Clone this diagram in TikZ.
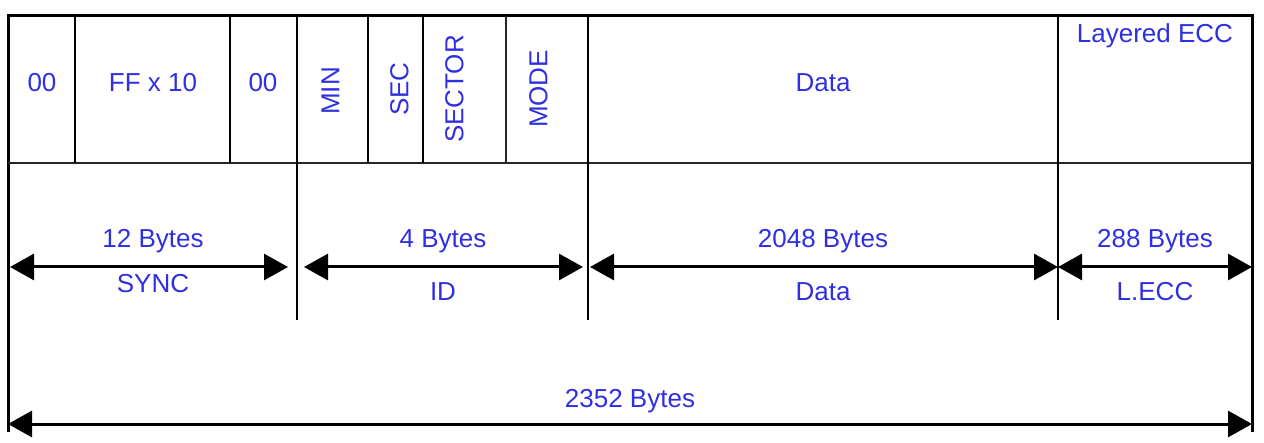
\documentclass[tikz,border=0pt]{standalone}
\usepackage{fontspec}
\setmainfont{Liberation Sans}
\usepackage{xcolor}
\usetikzlibrary{arrows.meta}
\definecolor{lbl}{HTML}{2F2FE2}
\tikzset{
  frame/.style={line width=1.5pt, line cap=rect},
  rule/.style={line width=1.3pt},
  thinrule/.style={line width=1pt, black!85},
  dim/.style={{Triangle[length=12pt,width=13pt]}-{Triangle[length=12pt,width=13pt]}, line width=1.5pt},
  field/.style={text=lbl, font=\fontsize{13}{15}\selectfont, inner sep=0pt, text height=9.3pt, text depth=0pt},
  vfield/.style={field, rotate=90},
}
\newcommand{\bytespan}[6]{%
  \draw[dim] (#1) -- (#2);
  \node[field] (#3a) at (#4,238) {#5};
  \node[field] (#3b) at (#4,#6) {#3};}

\begin{document}
\begin{tikzpicture}[x=0.5pt,y=-0.5pt]
  \useasboundingbox (0,0) rectangle (1264,443);
  % column edges
  \foreach \n/\x in {l/8, a/75, b/230, c/297, d/368, e/423, f/506, g/588, h/1058, r/1252} {
    \coordinate (t\n) at (\x,16);
    \coordinate (m\n) at (\x,163);
    \coordinate (u\n) at (\x,320);
  }
  \coordinate (bl) at (8,430);
  \coordinate (br) at (1252,430);
  \draw[frame] (bl) -- (tl) -- (tr) -- (br);
  \draw[thinrule] (ml) -- (mr);
  \foreach \n in {a,b,d,e} \draw[rule] (t\n) -- (m\n);
  \draw[thinrule] (tf) -- (mf);
  \foreach \n in {c,g,h} \draw[rule] (t\n) -- (u\n);
  % top row fields
  \node[field] (zeroa) at (42,82) {00};
  \node[field] (ffx) at (153,82) {FF x 10};
  \node[field] (zerob) at (263,82) {00};
  \node[vfield] (min) at (330,91) {MIN};
  \node[vfield] (sec) at (399,89) {SEC};
  \node[vfield] (sector) at (454,89) {SECTOR};
  \node[vfield] (mode) at (538,89) {MODE};
  \node[field] (data) at (823,82) {Data};
  \node[field] (lecc) at (1155,33) {Layered ECC};
  % byte counts
  \coordinate (syncl) at (10,267);  \coordinate (syncr) at (288,267);
  \coordinate (idl) at (304,267);   \coordinate (idr) at (583,267);
  \coordinate (datal) at (590,267); \coordinate (datar) at (1058,267);
  \coordinate (eccl) at (1058,267); \coordinate (eccr) at (1252,267);
  \bytespan{syncl}{syncr}{SYNC}{153}{12 Bytes}{283}
  \bytespan{idl}{idr}{ID}{443}{4 Bytes}{291}
  \bytespan{datal}{datar}{Data}{823}{2048 Bytes}{291}
  \bytespan{eccl}{eccr}{L.ECC}{1155}{288 Bytes}{291}
  % whole sector
  \coordinate (alll) at (8,424);
  \coordinate (allr) at (1252,424);
  \draw[dim] (alll) -- (allr);
  \node[field] (total) at (630,398) {2352 Bytes};
\end{tikzpicture}
\end{document}
